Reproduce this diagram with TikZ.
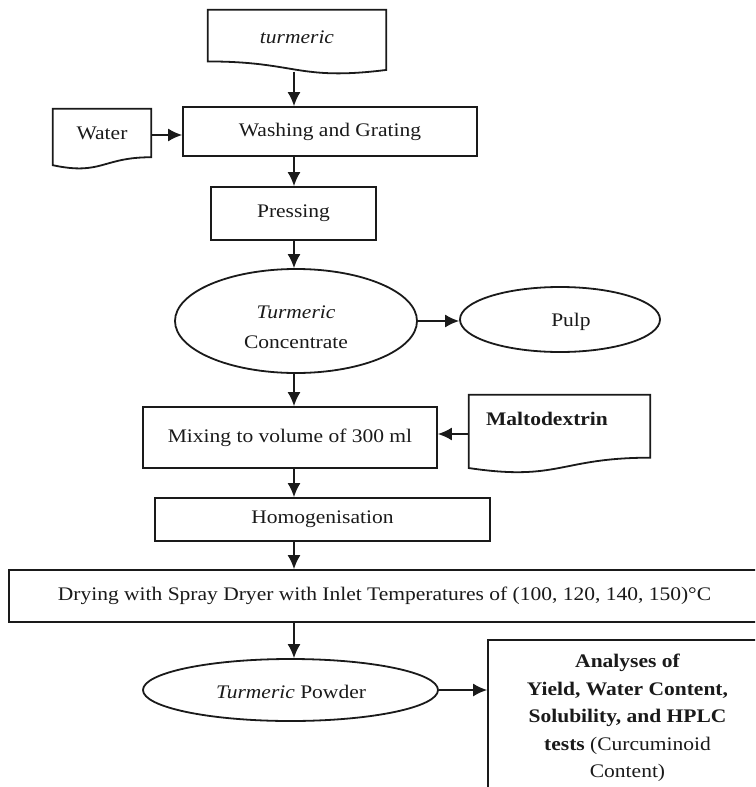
\documentclass[tikz,border=0pt]{standalone}
\usepackage{fontspec}
\setmainfont{Liberation Serif}[FakeStretch=1.12]
\usetikzlibrary{arrows.meta,shapes.geometric,calc}
\definecolor{ink}{HTML}{1A1A1A}
\newcommand\docpath[1]{\draw[draw=ink,line width=1.8pt,fill=white] let \p1=(#1.north west),\p2=(#1.south east) in (\x1,\y1) -- (\x2,\y1) -- (\x2,{\y1+0.802*(\y2-\y1)}) .. controls ({0.5*(\x1+\x2)},{\y1+0.802*(\y2-\y1)}) and ({0.5*(\x1+\x2)},{\y1+1.107*(\y2-\y1)}) .. (\x1,{\y1+0.934*(\y2-\y1)}) -- cycle;}
\newcommand\docpathm[1]{\draw[draw=ink,line width=1.8pt,fill=white] let \p1=(#1.north west),\p2=(#1.south east) in (\x2,\y1) -- (\x1,\y1) -- (\x1,{\y1+0.802*(\y2-\y1)}) .. controls ({0.5*(\x1+\x2)},{\y1+0.802*(\y2-\y1)}) and ({0.5*(\x1+\x2)},{\y1+1.107*(\y2-\y1)}) .. (\x2,{\y1+0.934*(\y2-\y1)}) -- cycle;}
\begin{document}
\begin{tikzpicture}[x=1pt,y=-1pt,
  box/.style={draw=ink,line width=1.8pt,rectangle,inner sep=0pt,font=\fontsize{19.2}{23}\selectfont,text=ink},
  oval/.style={draw=ink,line width=1.8pt,ellipse,inner sep=0pt},
  docbox/.style={rectangle,inner sep=0pt,draw=none},
  txt/.style={font=\fontsize{19.2}{23}\selectfont,text=ink,inner sep=0pt},
  arr/.style={draw=ink,line width=1.6pt,-{Latex[length=14pt,width=13pt]}}]
\useasboundingbox (0,0) rectangle (755,787);
\fill[white] (0,0) rectangle (755,787);
\clip (0,0) rectangle (755,787);
\coordinate (spine) at (294,0);
% document shapes
\node[docbox,minimum width=178,minimum height=64] (tur) at (297,42) {};
\node[docbox,minimum width=98,minimum height=60] (water) at (102,139) {};
\node[docbox,minimum width=181,minimum height=78] (malt) at (559.5,434) {};
\docpathm{tur}
\docpath{water}
\docpath{malt}
\node[txt] (turtxt) at (297,37) {\itshape turmeric};
\node[txt] (watertxt) at (102,133) {Water};
\node[txt] (malttxt) at (547,419) {\bfseries Maltodextrin};
% process boxes
\node[box,minimum width=294,minimum height=49] (wash) at (330,131.5) {Washing and Grating};
\node[box,minimum width=165,minimum height=53] (press) at (293.5,213.5) {Pressing};
\node[oval,minimum width=242,minimum height=104] (conc) at (296,321) {};
\node[txt,align=center,font=\fontsize{19.2}{30}\selectfont] (conctxt) at (296,327) {\itshape Turmeric\\ Concentrate};
\node[oval,minimum width=200,minimum height=65] (pulp) at (560,319.5) {};
\node[txt] (pulptxt) at (571,322) {Pulp};
\node[box,minimum width=294,minimum height=61] (mix) at (290,437.5) {Mixing to volume of 300 ml};
\node[box,minimum width=335,minimum height=43] (homog) at (322.5,519.5) {Homogenisation};
\node[box,minimum width=751,minimum height=52] (dry) at (384.5,596) {Drying with Spray Dryer with Inlet Temperatures of (100, 120, 140, 150)°C};
\node[oval,minimum width=295,minimum height=62] (pow) at (290.5,690) {};
\node[txt] (powtxt) at (291,692) {\itshape Turmeric\upshape{} Powder};
\node[box,minimum width=279,minimum height=156,align=center,font=\fontsize{19.2}{27.5}\selectfont] (ana) at (627.5,718)
  {\bfseries Analyses of\\ \bfseries Yield, Water Content,\\ \bfseries Solubility, and HPLC\\ \bfseries tests \mdseries(Curcuminoid\\ Content)};
% connectors
\draw[arr,shorten <=-2.5pt] (spine |- tur.south) -- (spine |- wash.north);
\draw[arr] ([yshift=4pt]water.east) -- ([yshift=4pt]water.east -| wash.west);
\draw[arr] (spine |- wash.south) -- (spine |- press.north);
\draw[arr] (spine |- press.south) -- (spine |- conc.north);
\draw[arr] (conc.east) -- (conc.east -| pulp.west);
\draw[arr] (spine |- conc.south) -- (spine |- mix.north);
\draw[arr] (malt.west) -- (malt.west -| mix.east);
\draw[arr] (spine |- mix.south) -- (spine |- homog.north);
\draw[arr] (spine |- homog.south) -- (spine |- dry.north);
\draw[arr] (spine |- dry.south) -- (spine |- pow.north);
\draw[arr] (pow.east) -- (pow.east -| ana.west);
\end{tikzpicture}
\end{document}
